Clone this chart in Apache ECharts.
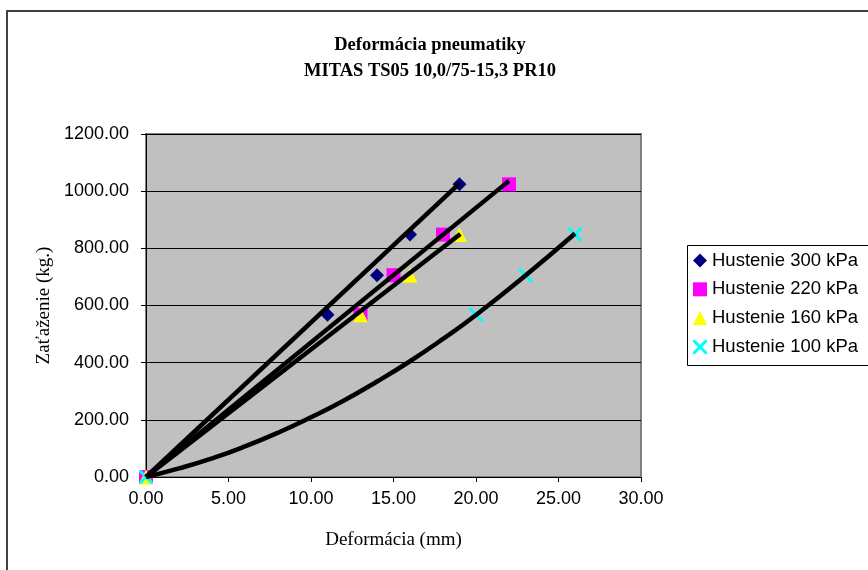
<!DOCTYPE html>
<html>
<head>
<meta charset="utf-8">
<script src="https://cdn.jsdelivr.net/npm/echarts@6/dist/echarts.min.js"></script>
<style>
  html, body { margin: 0; padding: 0; background: #fff; }
  #chart { width: 868px; height: 570px; }
</style>
</head>
<body>
<div id="chart"></div>
<script>
// namerane body (deformacia mm, zatazenie kg)
var names = ['Hustenie 300 kPa', 'Hustenie 220 kPa', 'Hustenie 160 kPa', 'Hustenie 100 kPa']
var p300 = [[0, 0], [11, 568], [14, 706], [16, 848], [19, 1024]]
var p220 = [[0, 0], [13, 568], [15, 706], [18, 848], [22, 1024]]
var p160 = [[0, 0], [13, 568], [16, 706], [19, 848]]
var p100 = [[0, 0], [20, 568], [23, 706], [26, 848]]

// trendove ciary odcitane z obrazka
var trend300 = [[0, 0], [19, 1027]]
var trend220 = [[0, 0], [22, 1036]]
var trend160 = [[0, 0], [19.05, 850]]
var trend100 = [[0, 0], [2, 30], [4, 65], [6, 107], [8, 155], [10, 209], [12, 268], [14, 334], [16, 405], [18, 483], [20, 567], [23, 705], [26, 852]]

var xTicks = { min: 0, max: 30, interval: 5 }
var yTicks = { min: 0, max: 1200, interval: 200 }

var crossIcon = 'path://M0,0 L3,0 L10,7 L17,0 L20,0 L20,3 L13,10 L20,17 L20,20 L17,20 L10,13 L3,20 L0,20 L0,17 L7,10 L0,3 Z'

var serif = '"Liberation Serif", "Times New Roman", serif'
var sans = '"Liberation Sans", Arial, sans-serif'

function trendSeries (data) {
  return {
    type: 'line',
    data: data,
    smooth: true,
    showSymbol: false,
    symbol: 'none',
    z: 5,
    lineStyle: { color: '#000', width: 4.5 },
    silent: true
  }
}

var myChart = echarts.init(document.getElementById('chart'))
var options = {
  backgroundColor: '#fff',
  animation: false,
  title: {
    text: 'Deformácia pneumatiky\nMITAS TS05 10,0/75-15,3 PR10',
    left: 425,
    top: 27,
    textAlign: 'center',
    textStyle: { fontFamily: serif, fontSize: 18.5, fontWeight: 'bold', color: '#000', lineHeight: 26 }
  },
  graphic: [
    {
      type: 'rect',
      shape: { x: 7, y: 11, width: 900, height: 600 },
      style: { fill: 'none', stroke: '#404040', lineWidth: 2 },
      z: -1
    },
    {
      type: 'rect',
      shape: { x: 687.5, y: 245.5, width: 300, height: 120 },
      style: { fill: '#fff', stroke: '#000', lineWidth: 1 },
      z: 0
    }
  ],
  legend: {
    orient: 'vertical',
    left: 693,
    top: 251,
    padding: 0,
    itemGap: 9.8,
    itemWidth: 14,
    itemHeight: 14,
    z: 10,
    textStyle: { fontFamily: sans, fontSize: 18.5, color: '#000', lineHeight: 18 },
    data: [
      { name: names[0], icon: 'diamond', itemStyle: { color: '#000080' } },
      { name: names[1], icon: 'rect', itemStyle: { color: '#ff00ff' } },
      { name: names[2], icon: 'triangle', itemStyle: { color: '#ffff00' } },
      { name: names[3], icon: crossIcon, itemStyle: { color: '#00ffff' } }
    ]
  },
  grid: {
    left: 146,
    right: 227,
    top: 134,
    bottom: 93,
    show: true,
    backgroundColor: '#c0c0c0',
    borderColor: '#808080',
    borderWidth: 2
  },
  xAxis: {
    type: 'value',
    min: xTicks.min,
    max: xTicks.max,
    interval: xTicks.interval,
    name: 'Deformácia (mm)',
    nameLocation: 'middle',
    nameGap: 54,
    nameTextStyle: { fontFamily: serif, fontSize: 19, color: '#000' },
    axisLine: { show: true, onZero: false, lineStyle: { color: '#000', width: 1 } },
    axisTick: { show: true, length: 5, lineStyle: { color: '#000' } },
    axisLabel: { margin: 13, fontFamily: sans, fontSize: 18, color: '#000', formatter: function (v) { return v.toFixed(2) } },
    splitLine: { show: false }
  },
  yAxis: {
    type: 'value',
    min: yTicks.min,
    max: yTicks.max,
    interval: yTicks.interval,
    name: 'Zaťaženie (kg.)',
    nameLocation: 'middle',
    nameGap: 92,
    nameTextStyle: { fontFamily: serif, fontSize: 19, color: '#000' },
    axisLine: { show: true, onZero: false, lineStyle: { color: '#000', width: 1 } },
    axisTick: { show: true, length: 5, lineStyle: { color: '#000' } },
    axisLabel: { margin: 17, fontFamily: sans, fontSize: 18, color: '#000', formatter: function (v) { return v.toFixed(2) } },
    splitLine: { show: true, lineStyle: { color: '#000', width: 1 } }
  },
  series: [
    { name: names[0], type: 'scatter', data: p300, symbol: 'diamond', symbolSize: 14, z: 3, itemStyle: { color: '#000080', opacity: 1 } },
    { name: names[1], type: 'scatter', data: p220, symbol: 'rect', symbolSize: 14, z: 3, itemStyle: { color: '#ff00ff', opacity: 1 } },
    { name: names[2], type: 'scatter', data: p160, symbol: 'triangle', symbolSize: 15, z: 3, itemStyle: { color: '#ffff00', opacity: 1 } },
    { name: names[3], type: 'scatter', data: p100, symbol: crossIcon, symbolSize: 14, z: 3, itemStyle: { color: '#00ffff', opacity: 1 } },
    trendSeries(trend300),
    trendSeries(trend220),
    trendSeries(trend160),
    trendSeries(trend100)
  ]
}
myChart.setOption(options)
</script>
</body>
</html>
